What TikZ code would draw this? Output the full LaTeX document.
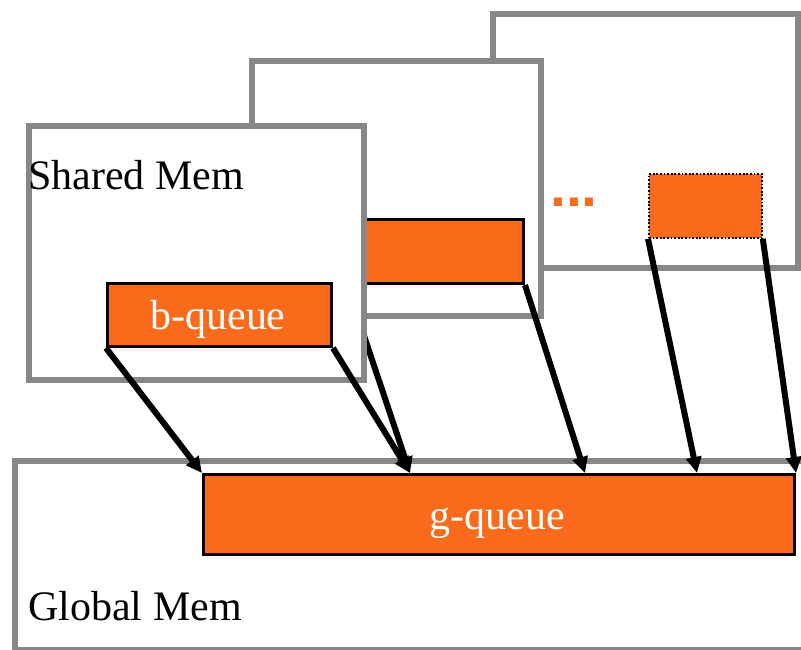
\documentclass[tikz,border=0pt]{standalone}
\usepackage{fontspec}
\setmainfont{Liberation Serif}
\newfontfamily\dotfont{Liberation Sans}
\usetikzlibrary{arrows.meta}
\definecolor{memgray}{HTML}{878787}
\definecolor{qorange}{HTML}{F96A1A}
\tikzset{
  panel/.style={draw=memgray, line width=6pt, fill=white, rectangle, inner sep=0pt, anchor=north west},
  queue/.style={draw=black, line width=3pt, fill=qorange, rectangle, inner sep=0pt, anchor=north west},
  ghostqueue/.style={draw=black, line width=1.8pt, dash pattern=on 1.8pt off 1.8pt, fill=qorange, rectangle, inner sep=0pt, anchor=north west},
  flow/.style={draw=black, line width=6pt, -{Triangle[length=16pt,width=15pt]}},
  memlabel/.style={inner sep=0pt, font=\fontsize{42}{50}\selectfont},
}
\begin{document}
\begin{tikzpicture}[x=1pt,y=-1pt]
\clip (0,0) rectangle (801,649);
\fill[white] (0,0) rectangle (801,649);

% global memory with the global queue
\node[panel, minimum width=800pt, minimum height=189pt] (global) at (12,458) {};
\node[memlabel, anchor=base west] (globaltext) at (28,620) {Global Mem};
\node[queue, minimum width=591pt, minimum height=80pt] (gq) at (202,473) {};
\node[memlabel, text=white, anchor=base] (gqtext) at (497.5,529) {g-queue};

% entry points on the global queue
\coordinate (gin2) at (410,473);
\coordinate (gin4) at (585,473);
\coordinate (gin5) at (697,473);

% last block (back)
\node[panel, minimum width=305pt, minimum height=254pt] (back) at (490,11) {};
\node[ghostqueue, minimum width=113pt, minimum height=64pt] (bqlast) at (648,173) {};
\node[inner sep=0pt, anchor=base west, text=qorange, font=\dotfont\bfseries\fontsize{57}{60}\selectfont] (dots) at (550,206) {...};
\draw[flow] (bqlast.south west) -- (gin5);
\draw[flow] (bqlast.south east) -- (gq.north east);

% second block (middle)
\node[panel, minimum width=289pt, minimum height=255pt] (middle) at (249,58) {};
\node[queue, minimum width=175pt, minimum height=64pt] (bqmid) at (347,218) {};
\draw[flow] (bqmid.south west) -- (gin2);
\draw[flow] (bqmid.south east) -- (gin4);

% first block (front)
\node[panel, minimum width=335.5pt, minimum height=254.5pt] (front) at (25.5,122.5) {};
\node[memlabel, anchor=base west] (sharedtext) at (28,189) {Shared Mem};
\node[queue, minimum width=224pt, minimum height=63pt] (bq) at (106,282) {};
\node[memlabel, text=white, anchor=base] (bqtext) at (218,329) {b-queue};
\draw[flow] (bq.south west) -- (gq.north west);
\draw[flow] (bq.south east) -- (gin2);
\end{tikzpicture}
\end{document}
